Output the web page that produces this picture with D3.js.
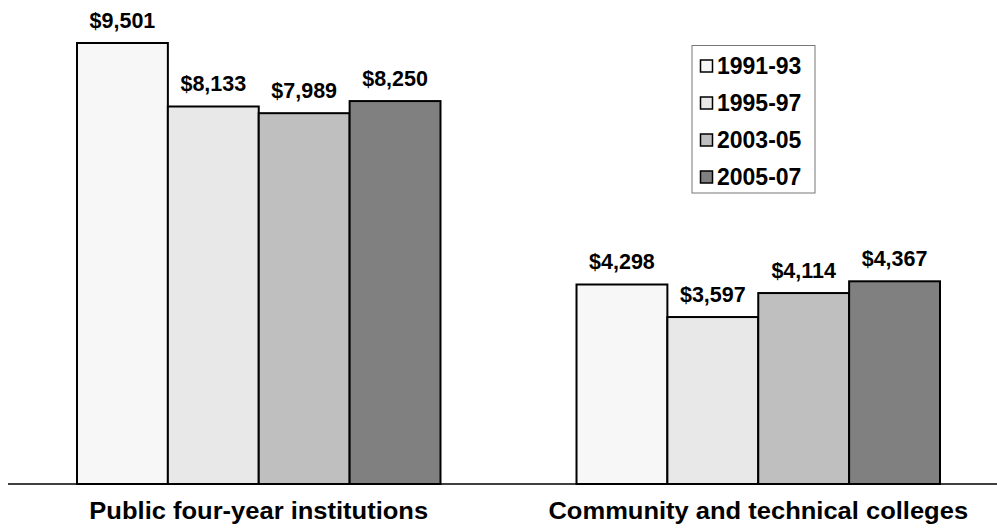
<!DOCTYPE html>
<html><head><meta charset="utf-8">
<script src="https://cdn.jsdelivr.net/npm/d3@7"></script>
<style>body{margin:0;background:#fff}svg{display:block}text{font-family:"Liberation Sans",Arial,sans-serif;font-weight:bold}</style>
</head><body>
<svg id="c" width="997" height="531"></svg>
<script>
const categories = ["Public four-year institutions", "Community and technical colleges"];
const seriesNames = ["1991-93", "1995-97", "2003-05", "2005-07"];
const values1991 = [9501, 4298];
const values1995 = [8133, 3597];
const values2003 = [7989, 4114];
const values2005 = [8250, 4367];
const seriesColors = ["#f7f7f7", "#e8e8e8", "#bfbfbf", "#808080"];

const allSeries = [values1991, values1995, values2003, values2005];
const svg = d3.select("#c");
const baseY = 484;
const y = d3.scaleLinear().domain([0, 9501]).range([baseY, 43]);
const x0 = d3.scaleBand().domain(categories).range([77, 940]).paddingInner(0.2723).paddingOuter(0);
const x1 = d3.scaleBand().domain(seriesNames).range([0, x0.bandwidth()]);

const g = svg.append("g");
categories.forEach((cat, ci) => {
  seriesNames.forEach((s, si) => {
    const v = allSeries[si][ci];
    const bx = x0(cat) + x1(s);
    g.append("rect").attr("x", bx).attr("y", y(v))
      .attr("width", x1.bandwidth()).attr("height", baseY - y(v))
      .attr("fill", seriesColors[si]).attr("stroke", "#000").attr("stroke-width", 2);
    g.append("text").attr("x", bx + x1.bandwidth()/2).attr("y", y(v) - 15.5)
      .attr("text-anchor", "middle").attr("font-size", 21.5).text("$" + d3.format(",")(v));
  });
  const cx = x0(cat) + x0.bandwidth()/2;
  svg.append("text").attr("transform", `translate(${cx},519) scale(1.11,1)`)
    .attr("text-anchor", "middle").attr("font-size", 23).text(cat);
});
svg.append("line").attr("x1", 8).attr("x2", 997).attr("y1", baseY).attr("y2", baseY)
  .attr("stroke", "#000").attr("stroke-width", 1.5);

const lg = svg.append("g");
lg.append("rect").attr("x", 692).attr("y", 45.5).attr("width", 123).attr("height", 147.5)
  .attr("fill", "#fff").attr("stroke", "#777").attr("stroke-width", 1);
seriesNames.forEach((s, i) => {
  const cy = 66 + i * 37;
  lg.append("rect").attr("x", 700.5).attr("y", cy - 6).attr("width", 12).attr("height", 12)
    .attr("fill", seriesColors[i]).attr("stroke", "#000").attr("stroke-width", 1.5);
  lg.append("text").attr("x", 717).attr("y", cy + 8).attr("font-size", 23).text(s);
});
</script>
</body></html>
